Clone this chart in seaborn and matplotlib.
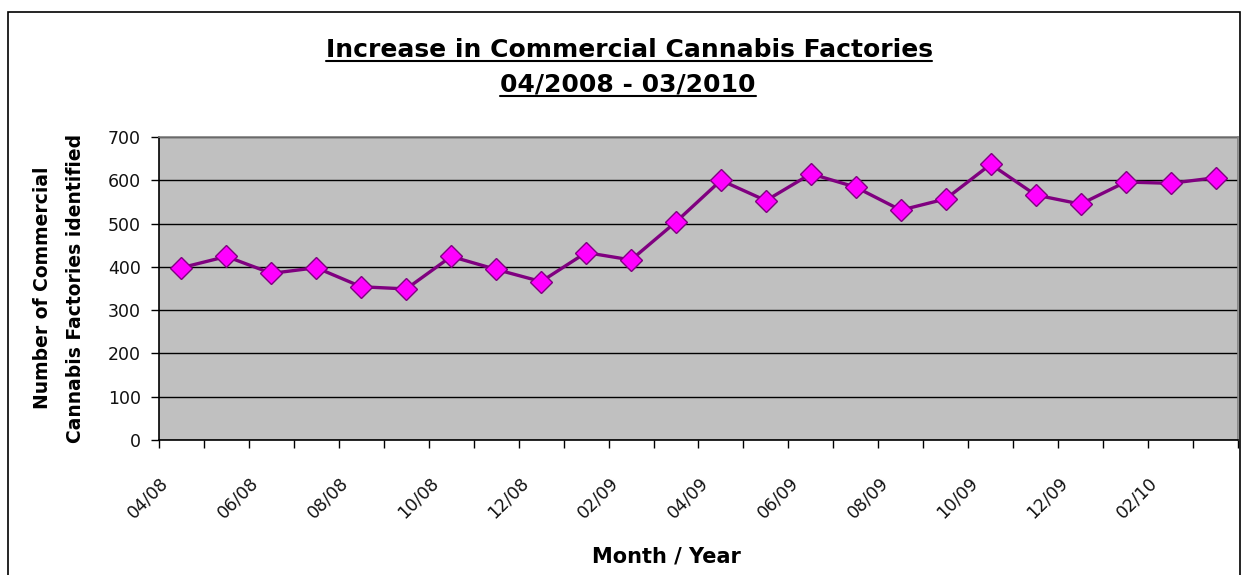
import matplotlib
matplotlib.use("Agg")
import matplotlib.pyplot as plt
import matplotlib.transforms as mtransforms
import seaborn as sns
import pandas as pd
from matplotlib.lines import Line2D
from matplotlib.patches import Rectangle
from matplotlib.ticker import FixedLocator, NullFormatter

months = ["04/08", "05/08", "06/08", "07/08", "08/08", "09/08", "10/08", "11/08",
          "12/08", "01/09", "02/09", "03/09", "04/09", "05/09", "06/09", "07/09",
          "08/09", "09/09", "10/09", "11/09", "12/09", "01/10", "02/10", "03/10"]
factories = [398, 424, 385, 398, 354, 349, 424, 394, 366, 433, 416, 504,
             600, 553, 615, 584, 531, 557, 637, 566, 545, 596, 593, 606]
y_ticks = [0, 100, 200, 300, 400, 500, 600, 700]

df = pd.DataFrame({"month": months, "count": factories})

sns.set_style("white")
plt.rcParams["font.family"] = ["DejaVu Sans"]
plt.rcParams["text.color"] = "black"

W, H = 1243, 575
fig = plt.figure(figsize=(W / 100, H / 100), dpi=100)
ax = fig.add_axes([159 / W, 1 - 440 / H, (1238 - 159) / W, (440 - 137) / H])
ax.set_facecolor("#C0C0C0")

sns.lineplot(data=df, x="month", y="count", ax=ax, sort=False,
             color="#800080", linewidth=2.4, marker="D", markersize=11,
             markerfacecolor="#FF00FF", markeredgecolor="#800080",
             markeredgewidth=1.0, zorder=5)

n = len(months)
ax.set_xlim(-0.5, n - 0.5)
ax.set_ylim(0, 700)
ax.set_yticks(y_ticks)
ax.set_yticklabels([str(v) for v in y_ticks], fontsize=12.5, color="#111111")
ax.yaxis.grid(True, color="black", linewidth=1.0)
ax.set_axisbelow(True)

ax.set_xticks(range(n))
ax.set_xticklabels([m if i % 2 == 0 else "" for i, m in enumerate(months)],
                   rotation=45, ha="right", va="top", rotation_mode="anchor",
                   fontsize=12.5, color="#111111")
ax.tick_params(axis="x", which="major", length=0, pad=24.5)
offset = mtransforms.ScaledTranslation(-22 / 100, 0, fig.dpi_scale_trans)
for lab in ax.get_xticklabels():
    lab.set_transform(lab.get_transform() + offset)
ax.xaxis.set_minor_locator(FixedLocator([i - 0.5 for i in range(n + 1)]))
ax.xaxis.set_minor_formatter(NullFormatter())
ax.tick_params(axis="x", which="minor", length=6, width=1, color="black",
               direction="out", bottom=True)
ax.tick_params(axis="y", length=6, width=1, color="black", direction="out",
               left=True, pad=7)

for s in ["top", "right"]:
    ax.spines[s].set_color("#808080")
    ax.spines[s].set_linewidth(1.2)
for s in ["left", "bottom"]:
    ax.spines[s].set_color("black")
    ax.spines[s].set_linewidth(1.2)

ax.set_xlabel("")
ax.set_ylabel("")

fig.text(59 / W, 1 - 288 / H, "Number of Commercial\nCannabis Factories identified",
         rotation=90, ha="center", va="center", fontsize=13.5, fontweight="bold",
         linespacing=1.95)
fig.text(666 / W, 1 - 556 / H, "Month / Year", ha="center", va="center",
         fontsize=15, fontweight="bold")

t1 = fig.text(629 / W, 1 - 57 / H, "Increase in Commercial Cannabis Factories",
              ha="center", va="baseline", fontsize=18, fontweight="bold")
t2 = fig.text(628 / W, 1 - 92 / H, "04/2008 - 03/2010",
              ha="center", va="baseline", fontsize=18, fontweight="bold")

fig.canvas.draw()
r = fig.canvas.get_renderer()
for t, base in ((t1, 57), (t2, 92)):
    bb = t.get_window_extent(renderer=r)
    y = 1 - (base + 4) / H
    fig.add_artist(Line2D([bb.x0 / W, bb.x1 / W], [y, y], color="black",
                          linewidth=1.5, transform=fig.transFigure))

fig.add_artist(Rectangle((8 / W, -0.05), (1240 - 8) / W, 1 - 12 / H + 0.05,
                         fill=False, edgecolor="black", linewidth=1.2,
                         transform=fig.transFigure))

fig.savefig("out.png", dpi=100)
